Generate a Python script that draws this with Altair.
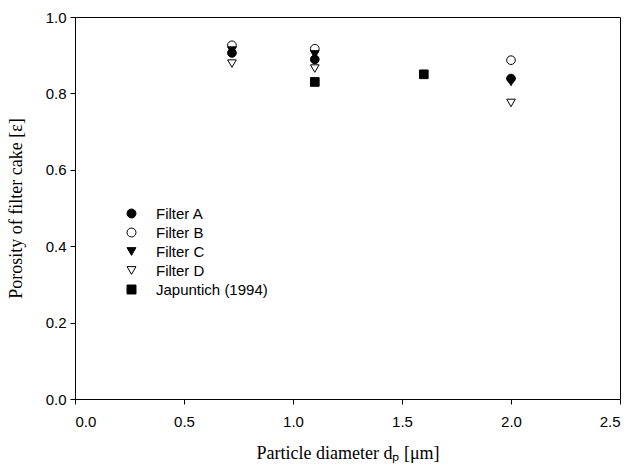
import altair as alt
import pandas as pd

# Measured porosity of the filter cake per particle diameter
diam = [0.72, 1.1, 2.0]
filter_a = [0.906, 0.889, 0.839]
filter_b = [0.926, 0.917, 0.887]
filter_c = [0.912, 0.902, 0.830]
filter_d = [0.878, 0.865, 0.775]
jap_diam = [1.1, 1.6]
jap_poro = [0.830, 0.850]

series = ["Filter A", "Filter B", "Filter C", "Filter D", "Japuntich (1994)"]

rows = []
for name, vals in zip(series[:4], [filter_a, filter_b, filter_c, filter_d]):
    for d, v in zip(diam, vals):
        rows.append({"d": d, "eps": v, "series": name})
for d, v in zip(jap_diam, jap_poro):
    rows.append({"d": d, "eps": v, "series": series[4]})
df = pd.DataFrame(rows)

shapes = ["circle", "circle", "triangle-down", "triangle-down", "square"]
fills = ["black", "transparent", "black", "transparent", "black"]
strokes = ["black"] * 5

legend = alt.Legend(
    title=None, orient="none", legendX=49, legendY=189,
    labelFont="Liberation Sans", labelFontSize=15, labelColor="black",
    symbolStrokeWidth=1, symbolSize=80,
    rowPadding=3, labelOffset=17, padding=0,
)

chart = alt.Chart(df).mark_point(
    filled=True, strokeWidth=1, opacity=1, size=75
).encode(
    x=alt.X("d:Q", scale=alt.Scale(domain=[0, 2.5], nice=False),
            axis=alt.Axis(title="Particle diameter dₚ [μm]", values=[0, 0.5, 1.0, 1.5, 2.0, 2.5],
                          format=".1f", labelPadding=10, titlePadding=15)),
    y=alt.Y("eps:Q", scale=alt.Scale(domain=[0, 1], nice=False),
            axis=alt.Axis(title="Porosity of filter cake [ε]", values=[0, 0.2, 0.4, 0.6, 0.8, 1.0],
                          format=".1f", labelPadding=4, titlePadding=20)),
    shape=alt.Shape("series:N", scale=alt.Scale(domain=series, range=shapes), legend=legend),
    fill=alt.Fill("series:N", scale=alt.Scale(domain=series, range=fills), legend=legend),
    stroke=alt.Stroke("series:N", scale=alt.Scale(domain=series, range=strokes), legend=legend),
).properties(
    width=545, height=382,
    background="white",
    autosize=alt.AutoSizeParams(type="none"),
    padding={"left": 75, "top": 17, "right": 12, "bottom": 66},
).configure_view(
    stroke="black", strokeWidth=1,
).configure_axis(
    grid=False, domainColor="black", tickColor="black", tickSize=5,
    labelFont="Liberation Sans", labelFontSize=15, labelColor="black",
    titleFont="Liberation Serif", titleFontSize=18, titleFontWeight="normal", titleColor="black",
)

chart.save("out.html", embed_options={"renderer": "svg", "actions": False})
